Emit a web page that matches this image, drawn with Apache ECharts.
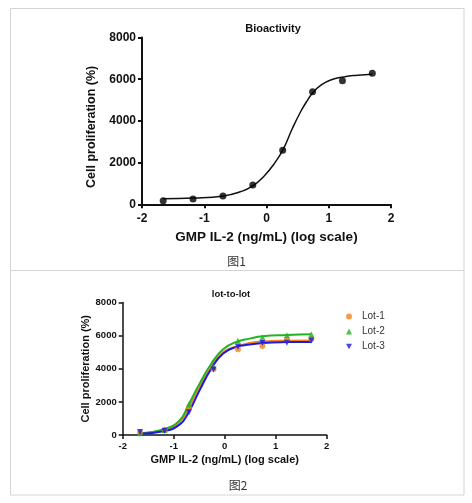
<!DOCTYPE html>
<html>
<head>
<meta charset="utf-8">
<script src="https://cdn.jsdelivr.net/npm/echarts@6/dist/echarts.min.js"></script>
<style>
html,body{margin:0;padding:0;background:#fff;}
#c{width:472px;height:503px;}
</style>
</head>
<body>
<div id="c"></div>
<script>
// ---- data ----
const doseLog = [-1.66, -1.18, -0.70, -0.22, 0.26, 0.74, 1.22, 1.70];
const bioValues = [170, 250, 400, 920, 2590, 5400, 5930, 6280];
const bioFitX = [-1.66, -1.17, -0.69, -0.42, -0.22, -0.04, 0.12, 0.27, 0.41, 0.55, 0.66, 0.75, 0.87, 1.03, 1.24, 1.46, 1.70];
const bioFitY = [270, 300, 400, 600, 880, 1350, 1930, 2650, 3600, 4450, 5000, 5370, 5700, 5960, 6110, 6190, 6240];

const lotNames = ['Lot-1', 'Lot-2', 'Lot-3'];
const lot1Values = [150, 320, 1650, 3980, 5180, 5380, 5760, 5800];
const lot2Values = [100, 300, 1850, 4100, 5690, 5900, 6020, 6080];
const lot3Values = [180, 240, 1380, 3950, 5330, 5560, 5570, 5700];
const lotFitX = [-1.66, -1.18, -0.88, -0.72, -0.49, -0.26, -0.03, 0.23, 0.49, 0.74, 1.22, 1.70];
const lot1FitY = [100, 320, 800, 1570, 2910, 4120, 5000, 5350, 5560, 5650, 5690, 5700];
const lot2FitY = [90, 360, 900, 1770, 3110, 4320, 5180, 5620, 5820, 5960, 6040, 6080];
const lot3FitY = [80, 240, 640, 1300, 2710, 4020, 4920, 5320, 5460, 5560, 5610, 5620];

const xTickMin = -2, xTickMax = 2, xTickStep = 1;
const yTickMin = 0, yTickMax = 8000, yTickStep = 2000;

const titles = ['Bioactivity', 'lot-to-lot'];
const xName = 'GMP IL-2 (ng/mL) (log scale)';
const yName = 'Cell proliferation (%)';
const captions = ['图1', '图2'];

// ---- styles ----
const FONT = '"Liberation Sans", Arial, sans-serif';
const INK = '#111';
const lotColors = ['#f5821f', '#22b322', '#1a1ae0'];
const downTri = 'path://M0,0L10,0L5,9Z';
const lotSymbols = ['circle', 'triangle', downTri];

const zip = (xs, ys) => xs.map((x, i) => [x, ys[i]]);
const plain = v => String(v);

function makeX(gi, fs, lw, nameFs, nameGap, margin) {
  return {
    type: 'value', gridIndex: gi, min: xTickMin, max: xTickMax, interval: xTickStep,
    name: xName, nameLocation: 'middle', nameGap: nameGap,
    nameTextStyle: {fontFamily: FONT, fontWeight: 'bold', fontSize: nameFs, color: INK},
    axisLine: {onZero: false, lineStyle: {color: INK, width: lw}},
    axisTick: {show: true, length: 4, lineStyle: {color: INK, width: lw}},
    axisLabel: {fontFamily: FONT, fontWeight: 'bold', fontSize: fs, color: INK, margin: margin, formatter: plain},
    splitLine: {show: false}
  };
}
function makeY(gi, fs, lw, nameFs, nameGap, margin, namePad) {
  return {
    type: 'value', gridIndex: gi, min: yTickMin, max: yTickMax, interval: yTickStep,
    name: yName, nameLocation: 'middle', nameGap: nameGap,
    nameTextStyle: {fontFamily: FONT, fontWeight: 'bold', fontSize: nameFs, color: INK, padding: namePad},
    axisLine: {show: true, onZero: false, lineStyle: {color: INK, width: lw}},
    axisTick: {show: true, length: 4, lineStyle: {color: INK, width: lw}},
    axisLabel: {fontFamily: FONT, fontWeight: 'bold', fontSize: fs, color: INK, margin: margin, formatter: plain},
    splitLine: {show: false}
  };
}

const lotValues = [lot1Values, lot2Values, lot3Values];
const lotFits = [lot1FitY, lot2FitY, lot3FitY];

const series = [
  {type: 'line', name: 'Bioactivity fit', xAxisIndex: 0, yAxisIndex: 0, data: zip(bioFitX, bioFitY),
   smooth: 0.5, showSymbol: false, lineStyle: {color: '#111', width: 1.5}, silent: true, z: 2},
  {type: 'scatter', name: 'Bioactivity', xAxisIndex: 0, yAxisIndex: 0, data: zip(doseLog, bioValues),
   symbol: 'circle', symbolSize: 7, itemStyle: {color: '#000'}, z: 3}
];
lotNames.forEach((n, i) => {
  series.push({type: 'line', name: n + ' fit', xAxisIndex: 1, yAxisIndex: 1, data: zip(lotFitX, lotFits[i]),
    smooth: 0.5, showSymbol: false, lineStyle: {color: lotColors[i], width: 2}, silent: true, z: 2});
});
lotNames.forEach((n, i) => {
  series.push({type: 'scatter', name: n, xAxisIndex: 1, yAxisIndex: 1, data: zip(doseLog, lotValues[i]),
    symbol: lotSymbols[i], symbolSize: 6, itemStyle: {color: lotColors[i]}, z: 3});
});

const chart = echarts.init(document.getElementById('c'), null, {renderer: 'canvas'});
chart.setOption({
  animation: false,
  backgroundColor: '#fff',
  grid: [
    {left: 142, top: 37.5, width: 249, height: 166.8, containLabel: false, outerBoundsMode: 'none'},
    {left: 122.7, top: 302.5, width: 204, height: 132.5, containLabel: false, outerBoundsMode: 'none'}
  ],
  xAxis: [makeX(0, 12, 2, 13.5, 26, 8), makeX(1, 9.5, 1.5, 11, 19, 6)],
  yAxis: [makeY(0, 12, 2, 12.5, 37, 6, [0, 12, 0, 0]), makeY(1, 9.5, 1.5, 11, 31, 6, 0)],
  legend: {
    orient: 'vertical', left: 341, top: 305.5, itemWidth: 6, itemHeight: 6, itemGap: 3,
    data: lotNames.map((n, i) => ({name: n, icon: lotSymbols[i]})),
    textStyle: {fontFamily: FONT, fontSize: 10, color: '#333', lineHeight: 12, padding: [0, 0, 0, 5]}
  },
  graphic: [
    {type: 'rect', silent: true, shape: {x: 10.5, y: 8.5, width: 453.5, height: 486.5},
     style: {fill: 'none', stroke: '#d4d4d4', lineWidth: 1}},
    {type: 'line', silent: true, shape: {x1: 10.5, y1: 270.5, x2: 464, y2: 270.5},
     style: {stroke: '#d4d4d4', lineWidth: 1}},
    {type: 'text', x: 273, y: 28.5, style: {text: titles[0], fontFamily: FONT, fontWeight: 'bold', fontSize: 11,
     fill: INK, align: 'center', verticalAlign: 'middle'}},
    {type: 'text', x: 231, y: 294, style: {text: titles[1], fontFamily: FONT, fontWeight: 'bold', fontSize: 9.5,
     fill: INK, align: 'center', verticalAlign: 'middle'}},
    {type: 'text', x: 236.5, y: 261, style: {text: captions[0], fontFamily: '"Noto Sans CJK SC", sans-serif', fontSize: 12,
     fill: '#333', align: 'center', verticalAlign: 'middle'}},
    {type: 'text', x: 238, y: 485.5, style: {text: captions[1], fontFamily: '"Noto Sans CJK SC", sans-serif', fontSize: 12,
     fill: '#333', align: 'center', verticalAlign: 'middle'}}
  ],
  series: series
});
</script>
</body>
</html>
